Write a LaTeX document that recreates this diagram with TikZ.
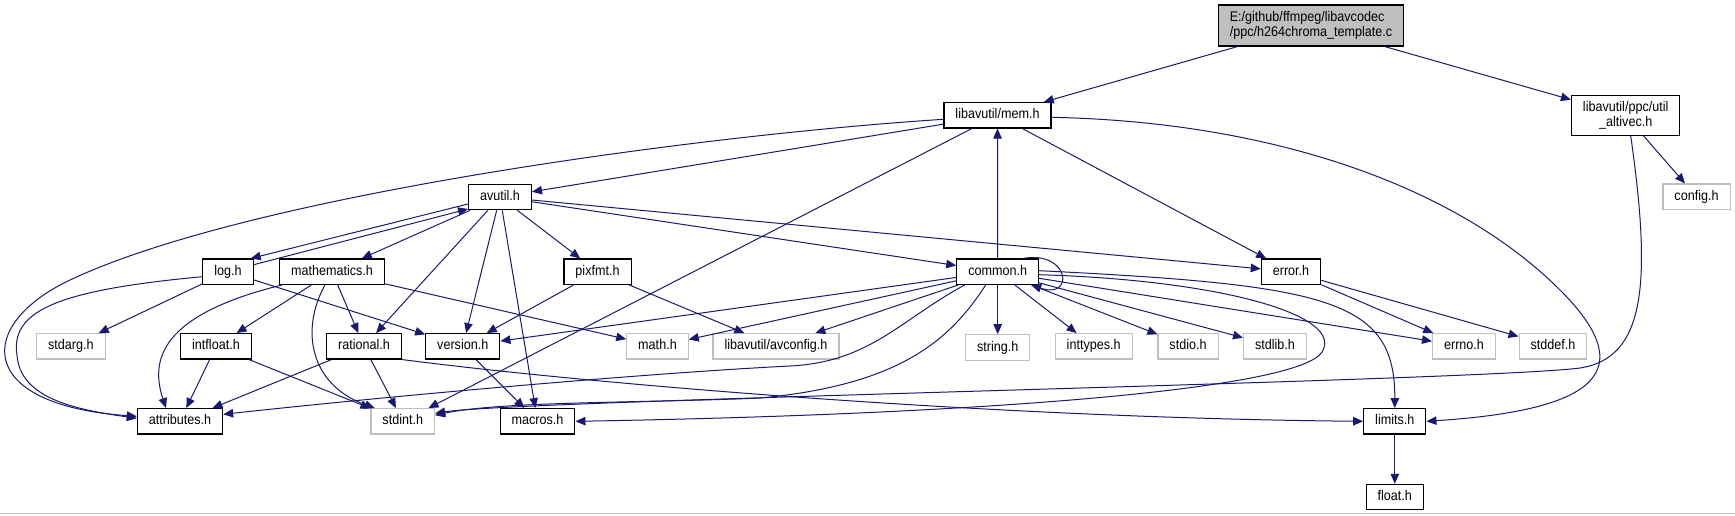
\documentclass[tikz,border=0pt]{standalone}
\usepackage{fontspec}
\setmainfont{Liberation Sans}[FakeStretch=0.9]
\usetikzlibrary{arrows.meta,positioning}
\definecolor{incblue}{HTML}{191970}
\definecolor{sysgray}{HTML}{BFBFBF}

\begin{document}
\begin{tikzpicture}[
  x=1pt, y=-1pt, font=\fontsize{14}{15}\selectfont, node distance=49.2pt,
  box/.style={draw=black,line width=1.1pt,fill=white,inner xsep=11.5pt,inner ysep=0pt},
  hdr/.style={box,minimum height=25.4pt,text height=10pt,text depth=2.8pt},
  sys/.style={hdr,draw=sysgray},
  root/.style={box,fill=sysgray,align=left,minimum height=41pt},
  a/.style={draw=incblue,line width=1pt,-{Triangle[length=10pt,width=8.5pt]}}]
\useasboundingbox (0,0) rectangle (1735,515);
\draw[sysgray,line width=1pt] (0,513.5) -- (1735,513.5);
% file and first level
\node[root] (main) at (1311,25.5) {E:/github/ffmpeg/libavcodec\\/ppc/h264chroma\_template.c};
\node[hdr] (mem) at (997.5,115.3) {libavutil/mem.h};
\node[box,align=center,minimum height=40pt] (altivec) at (1625.7,115.3) {libavutil/ppc/util\\\_altivec.h};
\node[hdr] (avutil) at (500,197) {avutil.h};
\node[sys] (config) at (1696.5,196.7) {config.h};
% second row
\node[hdr] (log) at (228,271.7) {log.h};
\node[hdr] (mathematics) at (332,271.7) {mathematics.h};
\node[hdr] (pixfmt) at (597.5,271.7) {pixfmt.h};
\node[hdr] (common) at (997.7,271.7) {common.h};
\node[hdr] (error) at (1291,271.7) {error.h};
% third row
\node[sys] (stdarg) at (70.8,346.3) {stdarg.h};
\node[hdr] (intfloat) at (216,346.3) {intfloat.h};
\node[hdr] (rational) at (364,346.3) {rational.h};
\node[hdr] (version) at (462.8,346.3) {version.h};
\node[sys] (math) at (657.5,346.3) {math.h};
\node[sys] (avconfig) at (776,346.3) {libavutil/avconfig.h};
\node[sys,below=of common] (string) {string.h};
\node[sys] (inttypes) at (1093.7,346.3) {inttypes.h};
\node[sys] (stdio) at (1188,346.3) {stdio.h};
\node[sys] (stdlib) at (1275,346.3) {stdlib.h};
\node[sys] (errno) at (1464,346.3) {errno.h};
\node[sys] (stddef) at (1553,346.3) {stddef.h};
% bottom rows
\node[hdr] (attributes) at (180,421.3) {attributes.h};
\node[sys] (stdint) at (402.8,421.3) {stdint.h};
\node[hdr] (macros) at (537.5,421.3) {macros.h};
\node[hdr] (limits) at (1394.8,421.3) {limits.h};
\node[hdr,below=of limits] (float) {float.h};
% includes
\draw[a] (main) -- (mem);
\draw[a] (main) -- (altivec);
\draw[a] (altivec) -- (config);
\draw[a] ([xshift=5pt]altivec.south) .. controls (1652,285) and (1645,358) .. (1580,368) .. controls (1480,381) and (520,400) .. ([yshift=8pt]stdint.east);
\draw[a] (mem) -- (avutil);
\draw[a] ([yshift=-4pt]mem.west) .. controls (700,135) and (250,195) .. (70,280) .. controls (-25,325) and (-25,405) .. ([yshift=5pt]attributes.west);
\draw[a] (mem) -- (stdint);
\draw[a] (mem) -- (error);
\draw[a] ([yshift=-2pt]mem.east) .. controls (1280,122) and (1460,190) .. (1560,290) .. controls (1640,370) and (1600,410) .. (limits.east);
\draw[a] ([yshift=-7pt]avutil.west) -- ([xshift=-3pt]log.north east);
\draw[a] (avutil) -- (mathematics);
\draw[a] (avutil) -- (rational);
\draw[a] (avutil) -- (version);
\draw[a] (avutil) -- (macros);
\draw[a] (avutil) -- (pixfmt);
\draw[a] (avutil) -- (common);
\draw[a] (avutil) -- (error);
\draw[a] ([yshift=7pt]log.east) -- ([yshift=-12pt]avutil.west);
\draw[a] (log) -- (stdarg);
\draw[a] ([yshift=-5pt]log.west) .. controls (60,290) and (10,310) .. (17,355) .. controls (20,400) and (80,410) .. ([yshift=3pt]attributes.west);
\draw[a] (log) -- (version);
\draw[a] ([xshift=-50pt]mathematics.south) .. controls (160,315) and (150,360) .. ([xshift=-14pt]attributes.north);
\draw[a] (mathematics) -- (intfloat);
\draw[a] ([xshift=-7pt]mathematics.south) .. controls (300,330) and (310,385) .. ([xshift=-28pt]stdint.north);
\draw[a] (mathematics) -- (rational);
\draw[a] (mathematics) -- (math);
\draw[a] (intfloat) -- (attributes);
\draw[a] (intfloat) -- (stdint);
\draw[a] (rational) -- (attributes);
\draw[a] (rational) -- (stdint);
\draw[a] (rational.south east) .. controls (600,385) and (1000,418) .. (limits.west);
\draw[a] (version) -- (macros);
\draw[a] (pixfmt) -- (version);
\draw[a] (pixfmt) -- (avconfig);
\draw[a] (common) -- (mem);
\draw[a] (common) -- (version);
\draw[a] (common) -- (math);
\draw[a] (common) -- (avconfig);
\draw[a] ([xshift=-33pt]common.south) .. controls (900,320) and (870,362) .. (790,366) .. controls (650,373) and (400,395) .. ([yshift=7pt]attributes.east);
\draw[a] ([xshift=-12pt]common.south) .. controls (950,340) and (900,385) .. (760,398) .. controls (650,403) and (500,401) .. ([yshift=6pt]stdint.east);
\draw[a] ([yshift=-3pt]common.east) .. controls (1220,280) and (1345,315) .. (1322,352) .. controls (1300,388) and (1000,414) .. (macros.east);
\draw[a] (common) -- (string);
\draw[a] (common) -- (inttypes);
\draw[a] (common) -- (stdio);
\draw[a] (common) -- (stdlib);
\draw[a] (common) -- (errno);
\draw[a] ([yshift=1pt]common.east) .. controls (1330,285) and (1395,300) .. (limits.north);
\draw[a] ([xshift=25pt]common.north) .. controls (1070,250) and (1075,300) .. ([xshift=-8pt]common.south east);
\draw[a] (error) -- (errno);
\draw[a] (error) -- (stddef);
\draw[a] (limits) -- (float);
\end{tikzpicture}
\end{document}
